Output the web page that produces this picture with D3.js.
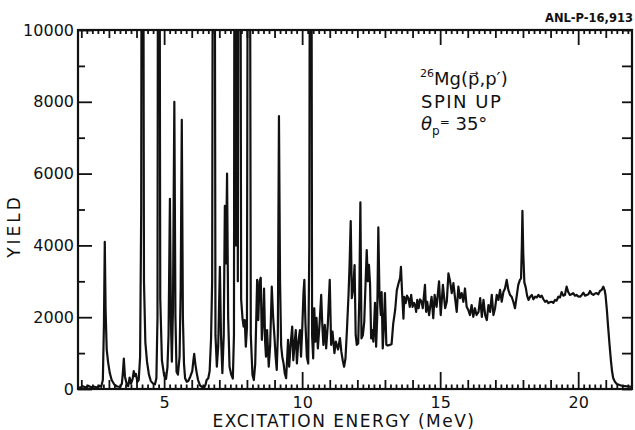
<!DOCTYPE html>
<html>
<head>
<meta charset="utf-8">
<script src="https://cdn.jsdelivr.net/npm/d3@7"></script>
<style>
  body { margin: 0; background: #fff; }
  text { font-family: "DejaVu Sans", sans-serif; fill: #111; }
  .tick line { stroke: #111; stroke-width: 1.8; }
</style>
</head>
<body>
<script>
// spectrum: excitation energy (MeV) and yield (counts)
// peaks that leave the frame get a large count and are clipped at 10000
var energy = [
  1.88,1.95,2.05,2.15,2.25,2.35,2.45,2.55,2.65,2.72,2.78,2.82,2.85,2.88,2.92,2.97,3.03,3.1,3.2,3.3,
  3.4,3.47,3.51,3.54,3.58,3.65,3.7,3.75,3.8,3.86,3.9,3.94,3.98,4.03,4.08,4.13,4.17,4.21,4.27,
  4.32,4.38,4.45,4.52,4.6,4.67,4.72,4.76,4.8,4.86,4.92,5.0,5.07,5.12,5.16,5.21,5.25,5.28,5.32,
  5.37,5.41,5.45,5.5,5.56,5.6,5.64,5.68,5.72,5.76,5.82,5.88,5.95,6.02,6.06,6.09,6.13,6.18,6.23,6.3,
  6.38,6.45,6.5,6.54,6.6,6.65,6.7,6.74,6.8,6.86,6.91,6.96,7.02,7.06,7.11,7.16,7.2,7.24,7.28,
  7.32,7.37,7.43,7.49,7.53,7.57,7.6,7.63,7.67,7.73,7.79,7.84,7.88,7.92,7.96,8.0,8.07,8.14,
  8.2,8.25,8.3,8.37,8.41,8.46,8.5,8.54,8.59,8.62,8.66,8.69,8.73,8.79,8.84,8.9,8.95,8.99,9.04,9.08,
  9.12,9.16,9.2,9.24,9.28,9.33,9.37,9.42,9.46,9.49,9.53,9.58,9.64,9.68,9.72,9.77,9.81,9.86,9.92,9.96,
  10.01,10.05,10.08,10.12,10.17,10.22,10.26,10.31,10.36,10.4,10.44,10.48,10.52,10.57,10.63,10.69,10.73,10.77,10.82,
  10.87,10.93,11.0,11.05,11.1,11.17,11.22,11.3,11.37,11.42,11.47,11.52,11.57,11.62,11.68,11.72,11.76,11.8,11.85,11.9,
  11.94,11.98,12.03,12.07,12.11,12.15,12.2,12.25,12.3,12.34,12.38,12.42,12.46,12.5,12.54,12.58,12.64,12.68,12.72,12.76,
  12.8,12.85,12.88,12.92,12.96,13.0,13.05,13.1,13.18,13.24,13.3,13.37,13.43,13.49,13.55,13.58,13.62,13.67,13.7,13.75,
  13.8,13.85,13.9,13.95,14.0,14.05,14.09,14.13,14.17,14.22,14.27,14.33,14.37,14.45,14.49,14.53,14.6,14.64,14.69,14.75,
  14.8,14.87,14.96,15.02,15.1,15.18,15.24,15.3,15.36,15.42,15.48,15.54,15.6,15.66,15.72,15.78,15.84,15.9,15.96,16.02,
  16.08,16.14,16.2,16.26,16.32,16.39,16.45,16.51,16.57,16.63,16.69,16.75,16.81,16.87,16.93,16.99,17.05,17.11,17.17,17.23,
  17.29,17.35,17.41,17.47,17.53,17.59,17.65,17.71,17.77,17.83,17.89,17.93,17.96,17.98,18.01,18.05,18.1,18.15,18.2,18.26,
  18.32,18.38,18.44,18.5,18.56,18.62,18.68,18.74,18.8,18.86,18.92,18.98,19.04,19.1,19.16,19.22,19.28,19.34,19.4,19.46,
  19.52,19.58,19.64,19.7,19.76,19.82,19.88,19.94,20.0,20.07,20.13,20.19,20.25,20.31,20.37,20.43,20.49,20.55,20.61,20.67,
  20.73,20.79,20.85,20.91,20.96,20.99,21.04,21.08,21.14,21.19,21.23,21.27,21.33,21.4,21.5,21.58,21.7,21.82,21.95
];
var counts = [
  60,30,80,40,90,50,70,40,90,60,250,1800,4100,2200,1100,750,450,250,120,70,
  60,150,500,850,350,120,80,320,150,280,500,360,420,200,250,900,5000,30000,3000,
  1300,760,400,220,150,130,300,2000,30000,2500,800,380,280,600,1500,5300,1800,760,2200,
  8000,2000,480,400,900,2800,7500,2000,700,300,200,230,350,500,800,980,700,450,250,100,
  50,40,120,250,300,500,1400,3000,30000,1500,620,1200,3400,1500,440,1500,5100,3500,6000,
  2000,620,400,290,1500,30000,4000,30000,3000,30000,2500,1970,1740,1920,1180,1700,30000,1500,
  400,250,700,3040,1920,3000,3100,1370,2000,2800,1300,900,1640,620,1200,2850,2000,1540,900,530,
  1500,7600,3000,1200,900,700,440,300,900,1370,620,1200,1740,800,1200,1640,710,1300,1640,900,
  1800,2700,3040,1830,900,710,4000,30000,1500,850,2250,1320,1980,1130,1800,2620,1790,1230,1790,
  1130,1800,3040,1230,1600,1000,1320,1100,1420,1040,800,620,850,1600,2620,3500,4680,2530,2800,3450,
  1500,1230,1270,2500,5200,1410,1500,1870,3000,3870,3000,3460,2940,1410,1640,1320,2400,1180,2000,4500,
  2670,2060,2700,1130,1730,2670,1230,1210,1230,1250,1820,2200,2750,2940,3100,3400,2700,1960,2570,2390,
  2600,2530,2290,2620,2290,2400,2340,2150,2480,2250,2500,2430,2250,2900,2150,2430,2060,2300,2570,1970,
  2620,2290,3000,2060,2900,2250,2430,3220,3000,2670,2950,2530,2150,2850,2530,2670,2430,2800,2290,2200,
  2060,2340,2010,2250,2060,2150,2530,2010,2480,2060,1920,2340,2150,2620,2060,2250,2620,2480,2760,2430,
  2700,2800,3040,2760,2620,2570,2430,2250,2570,2900,3040,3080,4000,4960,3800,2970,2830,2600,2480,2570,
  2620,2500,2570,2550,2620,2560,2600,2500,2430,2460,2390,2420,2430,2400,2480,2460,2570,2550,2700,2600,
  2620,2850,2700,2620,2640,2670,2600,2620,2580,2570,2620,2680,2600,2620,2640,2730,2650,2620,2660,2670,
  2640,2730,2760,2850,2750,2620,2200,1780,1200,760,480,300,200,140,110,90,80,70,60
];

var yLabelTicks = [0, 2000, 4000, 6000, 8000, 10000];
var yMinorTicks = [1000, 3000, 5000, 7000, 9000];
var xLabelTicks = [5, 10, 15, 20];
var xMediumTicks = [2, 3, 4, 6, 7, 8, 9, 11, 12, 13, 14, 16, 17, 18, 19, 21];

var width = 635, height = 430;
var plotL = 78, plotR = 632, plotT = 30, plotB = 389;

var svg = d3.select("body").append("svg")
    .attr("width", width)
    .attr("height", height);

var x = d3.scaleLinear().domain([1.88, 21.95]).range([plotL, plotR]);
var y = d3.scaleLinear().domain([0, 10000]).range([plotB, plotT]);

// minor ticks every 0.2 MeV
var xMinorTicks = d3.range(2.0, 21.9, 0.2).filter(function(v){
  return Math.abs(v - Math.round(v)) > 0.05;
});

function strip(g){ g.select(".domain").remove(); }

// bottom axis, ticks pointing in
svg.append("g").attr("transform", "translate(0," + plotB + ")")
  .call(d3.axisBottom(x).tickValues(xMinorTicks).tickSizeInner(-4.5).tickSizeOuter(0).tickFormat(""))
  .call(strip);
svg.append("g").attr("transform", "translate(0," + plotB + ")")
  .call(d3.axisBottom(x).tickValues(xMediumTicks).tickSizeInner(-9).tickSizeOuter(0).tickFormat(""))
  .call(strip);
svg.append("g").attr("transform", "translate(0," + plotB + ")")
  .call(d3.axisBottom(x).tickValues(xLabelTicks).tickSizeInner(-17).tickSizeOuter(0).tickPadding(8))
  .call(strip)
  .selectAll("text").style("font-size", "16px");

// top axis mirrors it
svg.append("g").attr("transform", "translate(0," + plotT + ")")
  .call(d3.axisTop(x).tickValues(xMinorTicks).tickSizeInner(-4).tickSizeOuter(0).tickFormat(""))
  .call(strip);
svg.append("g").attr("transform", "translate(0," + plotT + ")")
  .call(d3.axisTop(x).tickValues(xMediumTicks).tickSizeInner(-8).tickSizeOuter(0).tickFormat(""))
  .call(strip);
svg.append("g").attr("transform", "translate(0," + plotT + ")")
  .call(d3.axisTop(x).tickValues(xLabelTicks).tickSizeInner(-15).tickSizeOuter(0).tickFormat(""))
  .call(strip);

// left axis
svg.append("g").attr("transform", "translate(" + plotL + ",0)")
  .call(d3.axisLeft(y).tickValues(yMinorTicks).tickSizeInner(-7).tickSizeOuter(0).tickFormat(""))
  .call(strip);
svg.append("g").attr("transform", "translate(" + plotL + ",0)")
  .call(d3.axisLeft(y).tickValues(yLabelTicks).tickSizeInner(-14).tickSizeOuter(0).tickPadding(4).tickFormat(d3.format("d")))
  .call(strip)
  .selectAll("text").style("font-size", "16px");

// right axis, plain ticks every 1000
svg.append("g").attr("transform", "translate(" + plotR + ",0)")
  .call(d3.axisRight(y).tickValues(yLabelTicks.concat(yMinorTicks)).tickSizeInner(-10).tickSizeOuter(0).tickFormat(""))
  .call(strip);

svg.selectAll(".tick text").attr("fill", "#111");

svg.append("rect")
  .attr("x", plotL).attr("y", plotT)
  .attr("width", plotR - plotL).attr("height", plotB - plotT)
  .attr("fill", "none").attr("stroke", "#111").attr("stroke-width", 2.2);

svg.append("clipPath").attr("id", "frame")
  .append("rect").attr("x", plotL).attr("y", plotT)
  .attr("width", plotR - plotL).attr("height", plotB - plotT);

var line = d3.line()
  .x(function(d){ return x(d[0]); })
  .y(function(d){ return y(d[1]); });

svg.append("path")
  .datum(d3.zip(energy, counts))
  .attr("clip-path", "url(#frame)")
  .attr("d", line)
  .attr("fill", "none")
  .attr("stroke", "#111")
  .attr("stroke-width", 2.2)
  .attr("stroke-linejoin", "round");

// titles
svg.append("text")
  .attr("transform", "translate(20,226) rotate(-90)")
  .attr("text-anchor", "middle")
  .style("font-size", "17px")
  .style("letter-spacing", "3px")
  .text("YIELD");

svg.append("text")
  .attr("x", 344).attr("y", 427)
  .attr("text-anchor", "middle")
  .style("font-size", "17px")
  .style("letter-spacing", "1.5px")
  .text("EXCITATION ENERGY (MeV)");

svg.append("text")
  .attr("x", 633).attr("y", 22)
  .attr("text-anchor", "end")
  .style("font-size", "11.5px")
  .style("font-weight", "bold")
  .text("ANL-P-16,913");

// reaction label
var lab = svg.append("text").attr("x", 420).attr("y", 85).style("font-size", "18px");
lab.append("tspan").style("font-size", "11px").attr("dy", -8).text("26");
lab.append("tspan").attr("dy", 8).text("Mg(p\u20D7,p\u2032)");

svg.append("text").attr("x", 421).attr("y", 108)
  .style("font-size", "18px").style("letter-spacing", "1.5px").text("SPIN UP");

var th = svg.append("text").attr("x", 421).attr("y", 130).style("font-size", "18px");
th.append("tspan").style("font-style", "italic").text("\u03B8");
th.append("tspan").style("font-size", "12px").attr("dy", 5).text("p");
th.append("tspan").style("font-size", "12px").attr("dy", -9).text("=");
th.append("tspan").attr("dy", 4).text(" 35\u00B0");
</script>
</body>
</html>
